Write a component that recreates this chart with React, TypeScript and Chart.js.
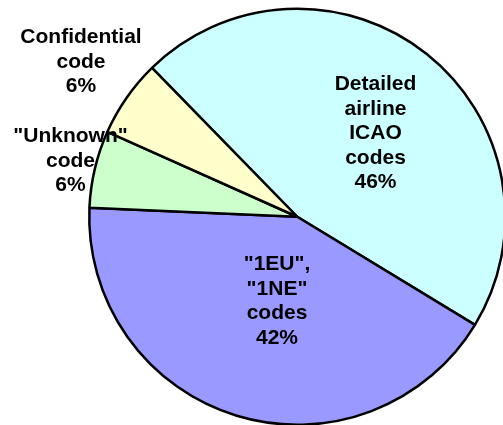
import React, { useEffect, useRef } from "react";
import { Chart, registerables } from "chart.js";

Chart.register(...registerables);

// Data
const categories: string[][] = [
  ["Detailed", "airline", "ICAO", "codes"],
  ['"1EU",', '"1NE"', "codes"],
  ['"Unknown"', "code"],
  ["Confidential", "code"],
];
const values: number[] = [46, 42, 6, 6];
const percentLabels: string[] = ["46%", "42%", "6%", "6%"];
const colors: string[] = ["#CCFFFF", "#9999FF", "#CCFFCC", "#FFFFCC"];

// Label layout (center x, first baseline y)
const labelAnchors: [number, number][] = [
  [375.5, 90],
  [277, 270],
  [70.5, 142],
  [81, 43],
];
const LINE_HEIGHT = 24.5;

const labelPlugin = {
  id: "sliceLabels",
  afterDraw(chart: any) {
    const ctx = chart.ctx as CanvasRenderingContext2D;
    ctx.save();
    ctx.font = 'bold 21px "Liberation Sans", Arial, sans-serif';
    ctx.fillStyle = "#000000";
    ctx.textAlign = "center";
    ctx.textBaseline = "alphabetic";
    categories.forEach((lines, i) => {
      const [x, y] = labelAnchors[i];
      const all = [...lines, percentLabels[i]];
      all.forEach((t, j) => ctx.fillText(t, x, y + j * LINE_HEIGHT));
    });
    ctx.restore();
  },
};

export default function App() {
  const ref = useRef<HTMLCanvasElement | null>(null);
  useEffect(() => {
    document.body.style.margin = "0";
    const chart = new Chart(ref.current as HTMLCanvasElement, {
      type: "pie",
      data: {
        labels: categories.map((l) => l.join(" ")),
        datasets: [
          {
            data: values,
            backgroundColor: colors,
            borderColor: "#000000",
            borderWidth: 2.5,
          },
        ],
      },
      options: {
        responsive: false,
        animation: false,
        rotation: -44.3,
        layout: { padding: { left: 88, top: 7.5, right: 3.5, bottom: 4 } },
        plugins: {
          legend: { display: false },
          tooltip: { enabled: false },
        },
      },
      plugins: [labelPlugin],
    });
    return () => chart.destroy();
  }, []);
  return (
    <div
      style={{
        position: "fixed",
        left: 0,
        top: 0,
        width: 503,
        height: 425,
        overflow: "hidden",
        background: "#ffffff",
      }}
    >
      <canvas ref={ref} width={510} height={430} style={{ width: 510, height: 430, display: "block" }} />
    </div>
  );
}
